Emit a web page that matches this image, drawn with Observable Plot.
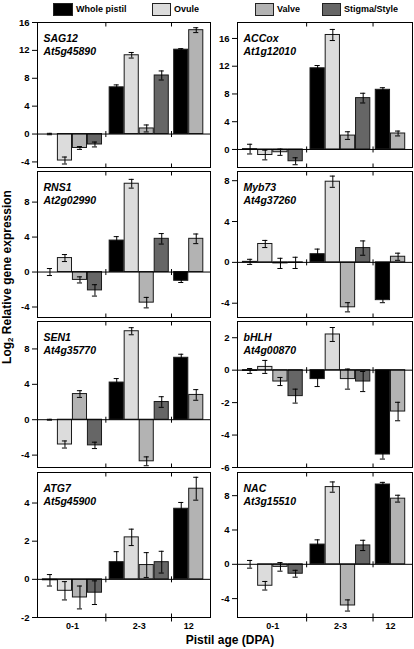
<!DOCTYPE html>
<html><head><meta charset="utf-8">
<script src="https://cdn.jsdelivr.net/npm/d3@7"></script>
<script src="https://cdn.jsdelivr.net/npm/@observablehq/plot@0.6"></script>
<style>
body{margin:0;background:#fff;font-family:"Liberation Sans",Arial,Helvetica,sans-serif;}
#fig{position:relative;width:414px;height:649px;overflow:hidden;background:#fff;}
.panel{position:absolute;}
.leg-box{position:absolute;top:3px;height:11px;border:1px solid #222;}
.leg-txt{position:absolute;top:3px;font-size:9px;font-weight:bold;line-height:13px;white-space:nowrap;}
.ytitle{position:absolute;left:-93px;top:269px;width:200px;height:16px;line-height:16px;text-align:center;font-size:12px;font-weight:bold;transform:rotate(-90deg);white-space:nowrap;}
.ytitle sub{font-size:8px;vertical-align:-2px;line-height:0;}
.xtitle{position:absolute;left:130px;top:634px;width:200px;text-align:center;font-size:12px;font-weight:bold;line-height:13px;white-space:nowrap;}
</style></head><body><div id="fig"></div>
<script>
// ---- categories ----
const ages = ["0-1", "2-3", "12"];
const tissues = ["Whole pistil", "Ovule", "Valve", "Stigma/Style"];
const tissueColors = ["#000000", "#dcdcdc", "#b3b3b3", "#666666"];
const sampleAge = ["0-1","0-1","0-1","0-1","2-3","2-3","2-3","2-3","12","12"];
const sampleTissue = ["Whole pistil","Ovule","Valve","Stigma/Style",
                      "Whole pistil","Ovule","Valve","Stigma/Style",
                      "Whole pistil","Valve"];

// ---- genes (panel order: left/right, top to bottom) ----
const geneNames = ["SAG12", "ACCox", "RNS1", "Myb73", "SEN1", "bHLH", "ATG7", "NAC"];
const geneIds = ["At5g45890", "At1g12010", "At2g02990", "At4g37260", "At4g35770", "At4g00870", "At5g45900", "At3g15510"];

// ---- series values (log2 relative expression) and error bars ----
const SAG12     = [0.0, -3.8, -2.0, -1.5,   6.7, 11.3,  0.8, 8.4,   12.1, 14.9];
const SAG12_err = [0.1,  0.5,  0.2, 0.35,  0.35,  0.4,  0.5, 0.65,  0.15, 0.35];
const ACCox     = [0.05, -0.8, -0.4, -1.7,  11.7, 16.5,  2.0, 7.4,   8.6, 2.3];
const ACCox_err = [0.7,  0.7, 0.45, 0.5,    0.4,  0.8, 0.55, 0.7,   0.3, 0.35];
const RNS1      = [0.0,  1.6, -0.9, -2.1,   3.6, 10.1, -3.5, 3.8,  -1.0, 3.8];
const RNS1_err  = [0.4,  0.4, 0.35, 0.65,  0.45,  0.5,  0.6, 0.6,   0.2, 0.55];
const Myb73     = [0.05, 1.8, -0.1, -0.05,  0.8,  7.9, -4.4, 1.4,  -3.7, 0.55];
const Myb73_err = [0.25, 0.35, 0.5, 0.55,   0.5, 0.55, 0.45, 0.7,  0.25, 0.35];
const SEN1      = [0.0, -2.8,  2.9, -2.9,   4.2, 10.0, -4.7, 2.0,   7.0, 2.8];
const SEN1_err  = [0.05, 0.4, 0.38, 0.36,  0.45,  0.4,  0.5, 0.6,   0.4, 0.6];
const bHLH      = [-0.05, 0.2, -0.7, -1.6, -0.55, 2.2, -0.55, -0.7, -5.2, -2.55];
const bHLH_err  = [0.15, 0.4, 0.25, 0.43,  0.46, 0.43, 0.62, 0.62,  0.28, 0.57];
const ATG7      = [-0.05, -0.6, -0.95, -0.7, 0.9, 2.2, 0.75, 0.9,   3.7, 4.75];
const ATG7_err  = [0.3, 0.48,  0.6, 0.62,  0.55, 0.43, 0.65, 0.57,  0.33, 0.6];
const NAC       = [0.0, -2.5, -0.3, -1.1,   2.3,  9.0, -4.8, 2.2,   9.3, 7.65];
const NAC_err   = [0.45, 0.5,  0.5, 0.4,   0.55,  0.6, 0.65, 0.6,   0.25, 0.4];

// ---- axis ranges and tick labels ----
const yDomains = [[-4.8, 16], [-2.6, 18.3], [-5.2, 11.5], [-5.4, 8.9], [-5.4, 11.1], [-6, 3], [-2, 5.6], [-6.2, 10.7]];
const yTicks = [[-4,0,4,8,12,16], [0,4,8,12,16], [-4,0,4,8], [-4,0,4,8], [-4,0,4,8], [-6,-4,-2,0,2], [-2,0,2,4], [-4,0,4,8]];

const values = [SAG12, ACCox, RNS1, Myb73, SEN1, bHLH, ATG7, NAC];
const errs = [SAG12_err, ACCox_err, RNS1_err, Myb73_err, SEN1_err, bHLH_err, ATG7_err, NAC_err];

// ---- layout ----
const groupStart = [0, 4.45, 8.75];
const slot = sampleAge.map((a, i) => groupStart[ages.indexOf(a)] + sampleAge.slice(0, i).filter(b => b === a).length);
const dividers = [(slot[3] + slot[4]) / 2, (slot[7] + slot[8]) / 2];
const ageCenter = ages.map(a => d3.mean(slot.filter((s, i) => sampleAge[i] === a)));
const vtick = (up, down) => ({draw(ctx) { ctx.moveTo(0, -up); ctx.lineTo(0, down); }});

const fig = document.getElementById("fig");
const FONT = "'Liberation Sans', Arial, Helvetica, sans-serif";

function panel(i) {
  const col = i % 2, row = Math.floor(i / 2);
  const frameTop = [22, 171, 321, 472][row];
  const frameH = [145, 146, 146, 145][row];
  const frameLeft = [37, 237][col];
  const frameW = [173, 175][col];
  const left = col ? 205 : 0;
  const mL = frameLeft - left, mT = 6, mR = 3, mB = row === 3 ? 20 : 6;
  const data = values[i].map((v, j) => ({v, e: errs[i][j], x: slot[j], tissue: sampleTissue[j]}));
  const marks = [
    Plot.rectY(data, {x1: d => d.x - 0.47, x2: d => d.x + 0.47, y1: 0, y2: "v", fill: "tissue", stroke: "#1a1a1a", strokeWidth: 1}),
    Plot.ruleY([0], {stroke: "#000", strokeWidth: 1}),
    Plot.ruleX(data, {x: "x", y1: d => d.v - d.e, y2: d => d.v + d.e, stroke: "#000", strokeWidth: 1}),
    Plot.ruleY(data, {y: d => d.v + d.e, x1: d => d.x - 0.17, x2: d => d.x + 0.17, stroke: "#000", strokeWidth: 1}),
    Plot.ruleY(data, {y: d => d.v - d.e, x1: d => d.x - 0.17, x2: d => d.x + 0.17, stroke: "#000", strokeWidth: 1}),
    Plot.frame({stroke: "#000", strokeWidth: 1}),
    Plot.axisY({ticks: yTicks[i], tickSize: 5, tickPadding: 3, tickFormat: d => String(d), label: null, fontSize: 9.5, fontWeight: "bold"}),
    Plot.dot(dividers, {x: d => d, frameAnchor: "top", symbol: vtick(0, 4), stroke: "#000", fill: "none", strokeWidth: 1}),
    Plot.dot(dividers, {x: d => d, frameAnchor: "bottom", symbol: vtick(4, row === 3 ? 4 : 0), stroke: "#000", fill: "none", strokeWidth: 1}),
    Plot.dot(dividers, {x: d => d, y: 0, symbol: vtick(3, 3), stroke: "#000", fill: "none", strokeWidth: 1}),
    Plot.text([geneNames[i] + "\n" + geneIds[i]], {frameAnchor: "top-left", dx: 6, dy: 10, lineAnchor: "top", lineHeight: 1.25, textAnchor: "start", fontSize: 10.5, fontWeight: "bold", fontStyle: "italic", fill: "#000"})
  ];
  if (row === 3) {
    marks.push(Plot.text(ages, {x: (d, k) => ageCenter[k], frameAnchor: "bottom", lineAnchor: "top", dy: 5, fontSize: 9, fontWeight: "bold", fill: "#000"}));
  }
  const svg = Plot.plot({
    width: mL + frameW + mR, height: mT + frameH + mB,
    marginLeft: mL, marginTop: mT, marginRight: mR, marginBottom: mB,
    x: {domain: [-0.83, 10.7], axis: null},
    y: {domain: yDomains[i], axis: null},
    color: {domain: tissues, range: tissueColors},
    style: {background: "none", fontFamily: FONT, fontWeight: "bold", fontSize: "9.5px", color: "#000", overflow: "visible"},
    marks
  });
  svg.classList.add("panel");
  svg.style.left = left + "px";
  svg.style.top = (frameTop - mT) + "px";
  fig.appendChild(svg);
}
for (let i = 0; i < values.length; i++) panel(i);

// ---- legend ----
const legBoxX = [53, 152, 255, 322];
const legBoxW = [18, 17, 17, 17];
tissues.forEach((t, k) => {
  const b = document.createElement("div");
  b.className = "leg-box";
  b.style.left = legBoxX[k] + "px";
  b.style.width = legBoxW[k] + "px";
  b.style.background = tissueColors[k];
  fig.appendChild(b);
  const s = document.createElement("div");
  s.className = "leg-txt";
  s.style.left = (legBoxX[k] + legBoxW[k] + 5) + "px";
  s.textContent = t;
  fig.appendChild(s);
});

// ---- titles ----
const yt = document.createElement("div");
yt.className = "ytitle";
yt.innerHTML = "Log<sub>2</sub> Relative gene expression";
fig.appendChild(yt);
const xt = document.createElement("div");
xt.className = "xtitle";
xt.textContent = "Pistil age (DPA)";
fig.appendChild(xt);
</script></body></html>
